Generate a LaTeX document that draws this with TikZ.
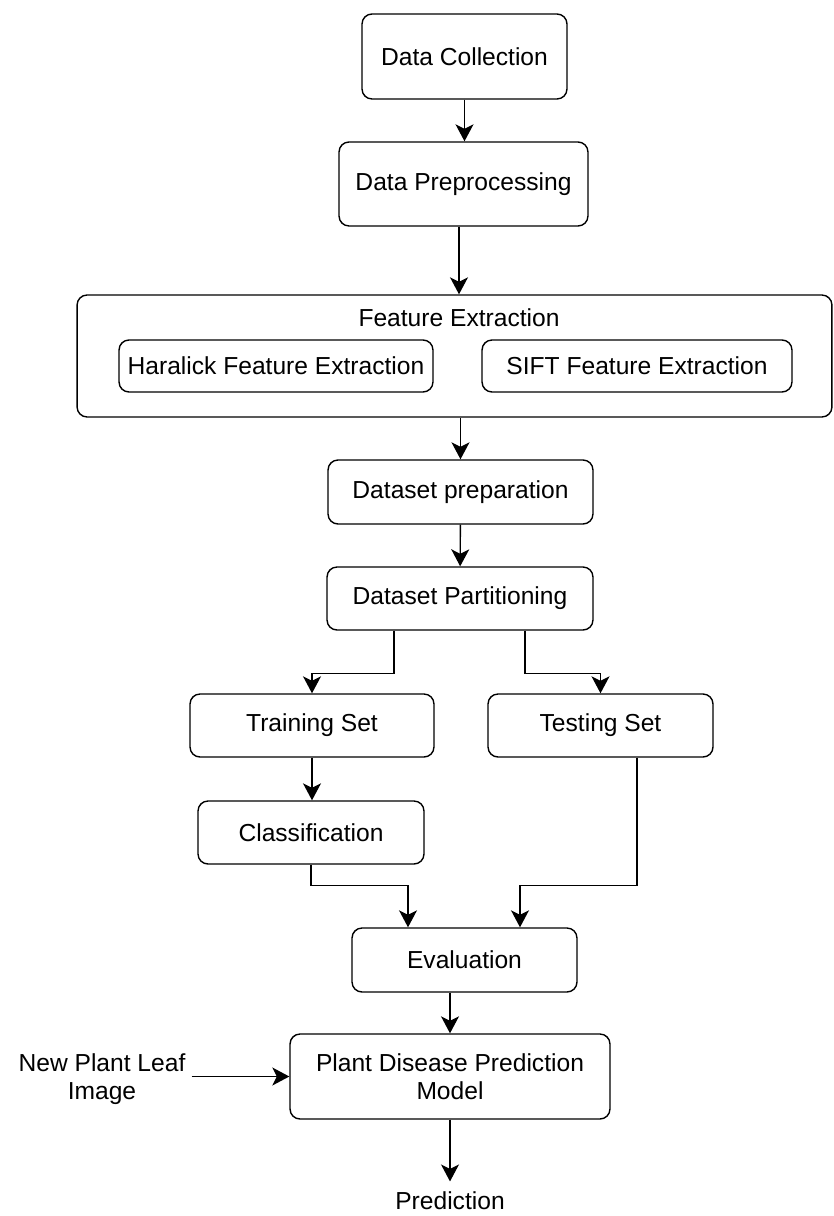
\documentclass[tikz,border=0pt]{standalone}
\usepackage{fontspec}
\setmainfont{Liberation Sans}
\usetikzlibrary{arrows.meta, positioning, calc}
\tikzstyle{box} = [rectangle, draw, thick, rounded corners=0.2cm, text centered, align=center, inner sep=0pt, font=\fontsize{14}{16}\selectfont]
\tikzstyle{plain} = [align=center, font=\fontsize{14}{16}\selectfont]
\tikzstyle{arrow} = [thick,-{Stealth[length=3.4mm,width=3.6mm,inset=0.9mm]}]

\begin{document}
\begin{tikzpicture}[x=0.02cm, y=-0.02cm]
\useasboundingbox (0,0) rectangle (833,1216);

% Preparing the images
\node (collect) [box, minimum width=4.1cm, minimum height=1.7cm] at (464.5,56.5) {Data Collection};
\node (prepro) [box, minimum width=4.98cm, minimum height=1.68cm] at (463.5,184) {Data Preprocessing};

% Feature extraction group
\node (feat) [box, minimum width=15.1cm, minimum height=2.44cm] at (454.5,356) {};
\node (feattitle) [plain] at (459,318) {Feature Extraction};
\node (haralick) [box, minimum width=6.28cm, minimum height=1.04cm] at (276,366) {Haralick Feature Extraction};
\node (sift) [box, minimum width=6.2cm, minimum height=1.04cm] at (637,366) {SIFT Feature Extraction};

% Dataset
\node (dsprep) [box, minimum width=5.3cm, minimum height=1.28cm] at (460.5,492) {Dataset preparation};
\node (dspart) [box, minimum width=5.32cm, minimum height=1.26cm] at (460,598.5) {Dataset Partitioning};
\node (train) [box, minimum width=4.88cm, minimum height=1.26cm] at (312,725.5) {Training Set};
\node (test) [box, minimum width=4.5cm, minimum height=1.26cm] at (600.5,725.5) {Testing Set};
\node (classif) [box, minimum width=4.52cm, minimum height=1.26cm] at (311,832.5) {Classification};
\node (eval) [box, minimum width=4.5cm, minimum height=1.28cm] at (464.5,960) {Evaluation};

% Model and its use
\node (model) [box, minimum width=6.4cm, minimum height=1.7cm] at (450,1076.5) {Plant Disease Prediction\\Model};
\node (leaf) [plain] at (102,1079) {New Plant Leaf\\Image};
\node (pred) [plain, inner sep=0pt, outer sep=6pt] at (450,1201) {Prediction};

% Connectors
\draw[arrow] (collect) -- (collect |- prepro.north);
\draw[arrow] (prepro.south -| feattitle) -- (feat.north -| feattitle);
\draw[arrow] (feat.south -| dsprep) -- (dsprep);
\draw[arrow] (dsprep) -- (dspart);
\draw[arrow] ([xshift=-1.32cm]dspart.south) -- ++(0,43) -| (train.north);
\draw[arrow] ([xshift=1.3cm]dspart.south) -- ++(0,43) -| (test.north);
\draw[arrow] (train) -- (train |- classif.north);
\draw[arrow] (classif.south) -- ++(0,21) -| ([xshift=-1.13cm]eval.north);
\draw[arrow] ([xshift=0.73cm]test.south) -- ++(0,128) -| ([xshift=1.11cm]eval.north);
\draw[arrow] (eval.south -| model.north) -- (model.north);
\draw[arrow] (leaf.east |- model.west) -- (model.west);
\draw[arrow] (model.south) -- (pred.north);
\end{tikzpicture}
\end{document}
